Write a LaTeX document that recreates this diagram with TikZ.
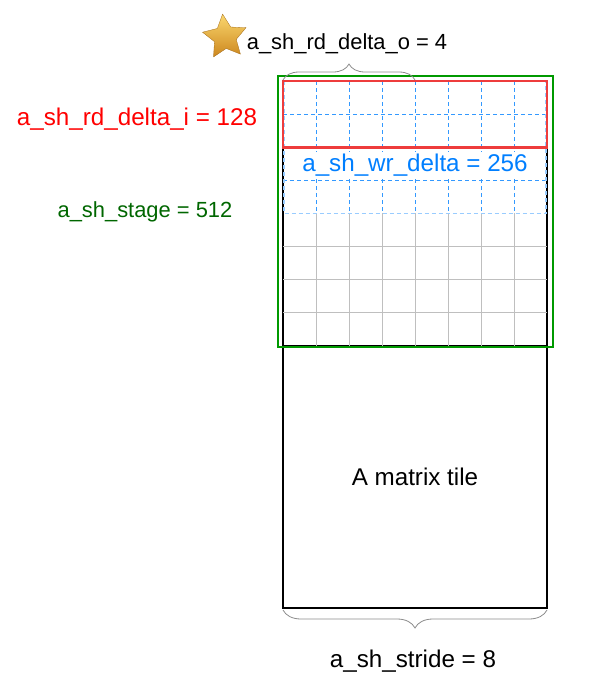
\documentclass[tikz,border=0pt]{standalone}
\usepackage{fontspec}
\setmainfont{Liberation Sans}
\usetikzlibrary{positioning,shapes.geometric,decorations.pathreplacing}
\definecolor{rdred}{RGB}{255,0,0}
\definecolor{boxred}{RGB}{238,60,60}
\definecolor{stgreen}{RGB}{0,102,0}
\definecolor{boxgreen}{RGB}{0,153,0}
\definecolor{wrblue}{RGB}{0,127,255}
\definecolor{dashblue}{RGB}{51,153,255}
\definecolor{lightdash}{RGB}{153,204,255}
\definecolor{starlight}{RGB}{250,215,110}
\definecolor{stardark}{RGB}{205,135,30}

\begin{document}
\begin{tikzpicture}[x=1pt,y=-1pt,
    label text/.style={font=\fontsize{24.2}{29}\selectfont,inner sep=0pt},
    small text/.style={font=\fontsize{21.9}{26}\selectfont,inner sep=0pt},
    tile box/.style={rectangle,draw,line width=2pt,outer sep=0pt,
      minimum width=264pt,anchor=north west},
    grid line/.style={draw=black!25,line width=0.8pt},
    wr line/.style={draw=dashblue,line width=0.9pt,dash pattern=on 4pt off 3pt},
    size brace/.style={draw=black!45,line width=0.8pt,decorate,
      decoration={brace,amplitude=#1}}]

  \useasboundingbox (0,0) rectangle (592,694);

  % tile: stage part on top, the rest below
  \node[tile box,minimum height=265pt] (stg) at (283,81) {};
  \node[tile box,minimum height=262pt] (rest) [below=0pt of stg]
    {\fontsize{24.2}{29}\selectfont A matrix tile};

  % grid of the stage
  \foreach \i in {1,...,7}
    \draw[grid line] (283+33*\i,213) -- (283+33*\i,346);
  \foreach \j in {5,6,7}
    \draw[grid line] (283,81+33.1*\j) -- (547,81+33.1*\j);

  % write window
  \foreach \i in {1,...,7}
    \draw[wr line] (283+33*\i,81) -- (283+33*\i,213);
  \foreach \j in {1,2,3}
    \draw[wr line] (283,81+33.1*\j) -- (547,81+33.1*\j);
  \draw[wr line,draw=lightdash,line width=1.8pt] (284,81) rectangle (546,213.4);
  \node[label text,text=wrblue,fill=white,minimum width=258pt,
    minimum height=27pt] (wrd) at (415,165.5) {a\_sh\_wr\_delta = 256};

  % read window and stage
  \draw[boxred,line width=2.6pt] (283,81) rectangle (547,147.2);
  \draw[boxgreen,line width=2.4pt] (278,76) rectangle (553,347);

  % sizes
  \coordinate (rdoL) at (283,80);
  \coordinate (rdoR) at (415,80);
  \draw[size brace=16pt] (rdoL) -- (rdoR);
  \coordinate (strR) at (547,610);
  \coordinate (strL) at (283,610);
  \draw[size brace=18pt] (strR) -- (strL);

  \node[star,star points=5,star point ratio=2.0,minimum size=46pt,
    inner sep=0pt,rotate=6,top color=starlight,bottom color=stardark,
    draw=stardark!80!black,line width=0.3pt] (gold) at (225,37) {};
  \node[small text] (rdo) at (347,44) {a\_sh\_rd\_delta\_o = 4};
  \node[label text,text=rdred] (rdi) at (137,119) {a\_sh\_rd\_delta\_i = 128};
  \node[small text,text=stgreen] (stage) at (145,212) {a\_sh\_stage = 512};
  \node[label text] (stride) at (413,661) {a\_sh\_stride = 8};
\end{tikzpicture}
\end{document}
